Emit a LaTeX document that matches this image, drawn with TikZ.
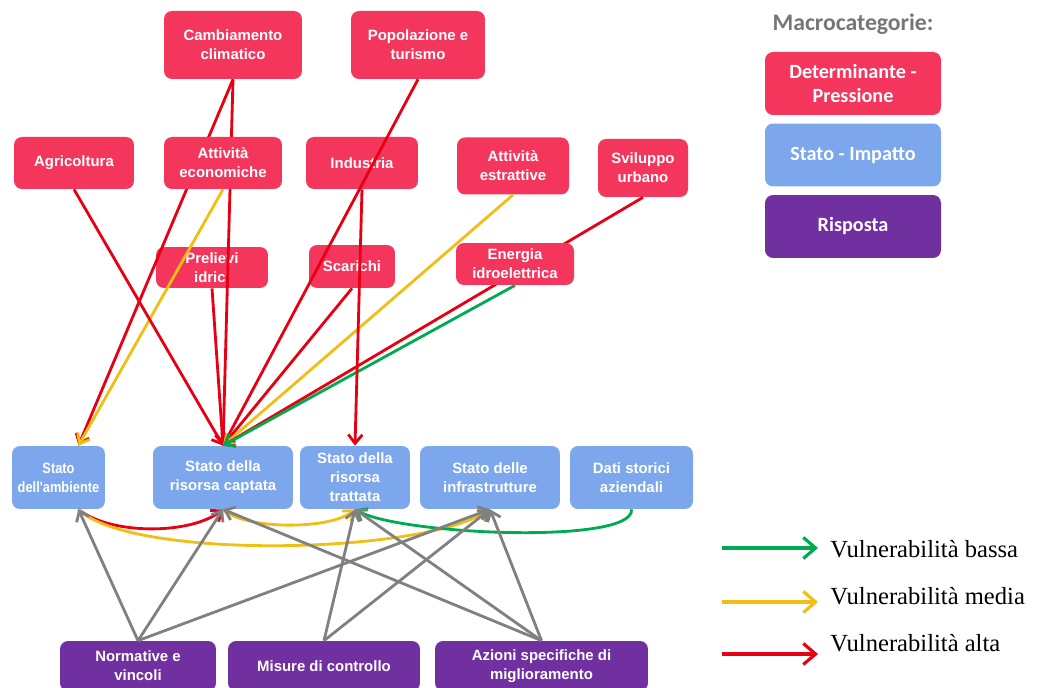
\documentclass[tikz,border=0pt]{standalone}
\usepackage{fontspec}
\setmainfont{Liberation Sans}
\newfontfamily\legendfont{Liberation Serif}
\newfontfamily\macrofont{Carlito}
\newfontfamily\narrowfont[FakeStretch=0.86]{Liberation Sans}
\usetikzlibrary{arrows.meta}

\definecolor{pressione}{RGB}{244,54,92}
\definecolor{stato}{RGB}{124,167,236}
\definecolor{risposta}{RGB}{112,48,160}
\definecolor{alto}{RGB}{230,0,18}
\definecolor{medio}{RGB}{240,190,20}
\definecolor{basso}{RGB}{0,170,80}
\definecolor{grigio}{RGB}{128,128,128}
\definecolor{titolo}{RGB}{118,118,118}

\pgfdeclarelayer{front}
\pgfsetlayers{main,front}

\begin{document}
\begin{tikzpicture}[
    x=0.02cm, y=-0.02cm,
    box/.style={rectangle, rounded corners=0.16cm, text=white, align=center, inner sep=0pt, font=\fontsize{8.5}{10.8}\selectfont\bfseries},
    driver/.style={box, fill=pressione},
    state/.style={box, fill=stato, minimum height=1.26cm},
    reply/.style={box, fill=risposta, minimum height=1cm},
    keybox/.style={box, minimum width=3.52cm, minimum height=1.26cm, font=\macrofont\fontsize{11.5}{14}\selectfont\bfseries},
    keytext/.style={anchor=west, inner xsep=0.24cm, font=\legendfont\fontsize{14}{16}\selectfont},
    link/.style={-{Straight Barb[length=5pt,width=8pt]}, line width=1.6pt},
    keyarrow/.style={-{Straight Barb[length=7pt,width=12pt]}, line width=1.8pt},
    alta/.style={link, alto},
    media/.style={link, medio},
    bassa/.style={link, basso},
    resp/.style={link, grigio}
]
\useasboundingbox (0,0) rectangle (1043,688);

% Determinanti - pressioni
\node[driver, minimum width=2.76cm, minimum height=1.36cm] (cc) at (233,45) {Cambiamento\\climatico};
\node[driver, minimum width=2.68cm, minimum height=1.36cm] (pt) at (418,45) {Popolazione e\\turismo};
\node[driver, minimum width=2.4cm, minimum height=1.04cm] (agr) at (74,163) {Agricoltura};
\node[driver, minimum width=2.24cm, minimum height=1.04cm] (ind) at (362,163) {Industria};
\node[driver, minimum width=2.24cm, minimum height=1.14cm] (aes) at (513,166) {Attività\\estrattive};
\node[driver, minimum width=1.8cm, minimum height=1.16cm] (su) at (643,168) {Sviluppo\\urbano};
\node[driver, minimum width=2.24cm, minimum height=0.82cm] (pi) at (212,267.5) {Prelievi\\idrici};
\node[driver, minimum width=1.72cm, minimum height=0.86cm] (sc) at (352,266.5) {Scarichi};
\begin{pgfonlayer}{front}
\node[driver, minimum width=2.36cm, minimum height=1.04cm] (ae) at (223,163) {Attività\\economiche};
\node[driver, minimum width=2.36cm, minimum height=0.84cm] (en) at (515,264) {Energia\\idroelettrica};
\end{pgfonlayer}

% Stati - impatti
\node[state, minimum width=1.86cm, font=\narrowfont\fontsize{8.5}{10.8}\selectfont\bfseries] (amb) at (58.5,477.5) {Stato\\dell'ambiente};
\node[state, minimum width=2.8cm] (cap) at (223,477.5) {Stato della\\risorsa captata};
\node[state, minimum width=2.2cm] (tra) at (355,477.5) {Stato della\\risorsa\\trattata};
\node[state, minimum width=2.8cm] (inf) at (490,477.5) {Stato delle\\infrastrutture};
\node[state, minimum width=2.46cm] (dsa) at (631.5,477.5) {Dati storici\\aziendali};

% Risposte
\node[reply, minimum width=3.12cm] (nv) at (138,666) {Normative e\\vincoli};
\node[reply, minimum width=3.84cm] (mc) at (324,666) {Misure di controllo};
\node[reply, minimum width=4.26cm] (asm) at (541.5,666) {Azioni specifiche di\\miglioramento};

% Macrocategorie
\node[font=\macrofont\fontsize{13.5}{16}\selectfont\bfseries, text=titolo] (mt) at (853,24) {Macrocategorie:};
\node[keybox, fill=pressione] (kp) at (853,83.5) {Determinante -\\Pressione};
\node[keybox, fill=stato] (ki) at (853,155) {Stato - Impatto};
\node[keybox, fill=risposta] (kr) at (853,226.5) {Risposta};

% Vulnerabilita
\coordinate (kb) at (722,548);
\coordinate (km) at (722,602);
\coordinate (ka) at (722,654);
\node[keytext] (vb) at (818,549) {Vulnerabilità bassa};
\node[keytext] (vm) at (818,596) {Vulnerabilità media};
\node[keytext] (va) at (818,643) {Vulnerabilità alta};
\draw[keyarrow, basso] (kb) -- (kb -| vb.west);
\draw[keyarrow, medio] (km) -- (km -| vm.west);
\draw[keyarrow, alto] (ka) -- (ka -| va.west);

% Pressioni sugli stati
\draw[alta] (cc.south) -- (amb.58);
\draw[media] (ae.south) -- (amb.58);
\draw[alta] (agr.south) -- (cap.north);
\draw[alta] (cc.south) -- (cap.north);
\draw[alta] (pi.south) -- (cap.north);
\draw[alta] (pt.south) -- (cap.north);
\draw[alta] (sc.south) -- (cap.north);
\draw[media] (aes.south) -- (cap.north);
\draw[alta] (su.south) -- (cap.north);
\draw[bassa] (en.south) -- (cap.north);
\draw[alta] (ind.south) -- (tra.north);

% Legami tra stati
\draw[alta] (amb.-58) .. controls (110,535) and (190,535) .. (cap.south);
\draw[media] (amb.-58) .. controls (130,560) and (420,555) .. (inf.south);
\draw[media] (cap.south) .. controls (245,530) and (330,530) .. (tra.south);
\draw[bassa] (dsa.south) .. controls (635,545) and (400,535) .. (tra.south);

% Risposte sugli stati
\draw[resp] (nv.north) -- (amb.-58);
\draw[resp] (nv.north) -- (cap.south);
\draw[resp] (nv.north) -- (inf.south);
\draw[resp] (mc.north) -- (tra.south);
\draw[resp] (mc.north) -- (inf.south);
\draw[resp] (asm.north) -- (cap.south);
\draw[resp] (asm.north) -- (tra.south);
\draw[resp] (asm.north) -- (inf.south);
\end{tikzpicture}
\end{document}
